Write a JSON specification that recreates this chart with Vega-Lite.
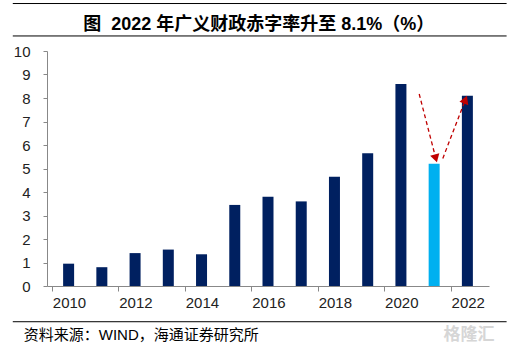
{
  "$schema": "https://vega.github.io/schema/vega-lite/v6.json",
  "width": 442,
  "height": 235,
  "autosize": "none",
  "padding": {"left": 47, "top": 51, "right": 30, "bottom": 67},
  "background": "white",
  "config": {"view": {"stroke": null}, "font": "Liberation Sans, Noto Sans CJK SC"},
  "datasets": {
    "bars": [
      {"year": 2010, "value": 0.95, "kind": "a"},
      {"year": 2011, "value": 0.8, "kind": "a"},
      {"year": 2012, "value": 1.4, "kind": "a"},
      {"year": 2013, "value": 1.55, "kind": "a"},
      {"year": 2014, "value": 1.35, "kind": "a"},
      {"year": 2015, "value": 3.45, "kind": "a"},
      {"year": 2016, "value": 3.8, "kind": "a"},
      {"year": 2017, "value": 3.6, "kind": "a"},
      {"year": 2018, "value": 4.65, "kind": "a"},
      {"year": 2019, "value": 5.65, "kind": "a"},
      {"year": 2020, "value": 8.6, "kind": "a"},
      {"year": 2021, "value": 5.2, "kind": "b"},
      {"year": 2022, "value": 8.1, "kind": "a"}
    ],
    "lines": [
      {"x": 2008.32, "x2": 2023.18, "y": 12.02},
      {"x": 2008.32, "x2": 2023.18, "y": 10.64},
      {"x": 2008.32, "x2": 2023.18, "y": -1.52}
    ],
    "arrows": [
      {"x": 2020.55, "y": 8.17, "x2": 2021.05, "y2": 5.43, "angle": 164.6},
      {"x": 2021.26, "y": 5.43, "x2": 2021.94, "y2": 7.93, "angle": 21.7}
    ],
    "notes": [
      {"x": 2015.72, "y": 11.1, "text": "图\u00a0\u00a02022 年广义财政赤字率升至 8.1%（%）"}
    ],
    "source": [
      {"x": 2008.65, "y": -2.07, "text": "资料来源：WIND，海通证券研究所"}
    ],
    "marks": [
      {"x": 2022.05, "y": -2.1, "text": "格隆汇"}
    ]
  },
  "layer": [
    {
      "data": {"name": "bars"},
      "mark": {"type": "bar", "size": 11},
      "encoding": {
        "x": {"field": "year", "type": "quantitative", "scale": {"domain": [2009.5, 2022.5], "nice": false, "zero": false},
          "axis": {"title": null, "values": [2009.5, 2011.5, 2013.5, 2015.5, 2017.5, 2019.5, 2021.5], "labelExpr": "format(datum.value + 0.5, 'd')", "labelOffset": 17, "grid": false, "domainColor": "#888888", "tickColor": "#888888", "tickSize": 5, "labelPadding": 4, "labelFontSize": 15, "labelColor": "#222222", "labelFont": "Liberation Sans", "labelFlush": false, "labelOverlap": false}},
        "y": {"field": "value", "type": "quantitative", "scale": {"domain": [0, 10], "nice": false},
          "axis": {"title": null, "values": [0, 1, 2, 3, 4, 5, 6, 7, 8, 9, 10], "grid": false, "domainColor": "#888888", "tickColor": "#888888", "tickSize": 4, "labelPadding": 13, "labelFontSize": 15, "labelColor": "#222222", "labelFont": "Liberation Sans", "labelOverlap": false, "labelFlush": false}},
        "color": {"field": "kind", "type": "nominal", "scale": {"domain": ["a", "b"], "range": ["#002060", "#00B0F0"]}, "legend": null}
      }
    },
    {
      "data": {"name": "lines"},
      "mark": {"type": "rule", "color": "#000000", "strokeWidth": 1},
      "encoding": {
        "x": {"field": "x", "type": "quantitative", "title": null},
        "x2": {"field": "x2"},
        "y": {"field": "y", "type": "quantitative", "axis": {"title": null, "values": [0, 1, 2, 3, 4, 5, 6, 7, 8, 9, 10], "labelOverlap": false}}
      }
    },
    {
      "data": {"name": "arrows"},
      "mark": {"type": "rule", "color": "#C00000", "strokeWidth": 1.3, "strokeDash": [4, 3]},
      "encoding": {
        "x": {"field": "x", "type": "quantitative", "title": null},
        "x2": {"field": "x2"},
        "y": {"field": "y", "type": "quantitative", "axis": {"title": null, "values": [0, 1, 2, 3, 4, 5, 6, 7, 8, 9, 10], "labelOverlap": false}},
        "y2": {"field": "y2"}
      }
    },
    {
      "data": {"name": "arrows"},
      "mark": {"type": "point", "shape": "triangle-up", "filled": true, "color": "#C00000", "opacity": 1, "size": 90},
      "encoding": {
        "x": {"field": "x2", "type": "quantitative", "title": null},
        "y": {"field": "y2", "type": "quantitative", "axis": {"title": null, "values": [0, 1, 2, 3, 4, 5, 6, 7, 8, 9, 10], "labelOverlap": false}},
        "angle": {"field": "angle", "type": "quantitative", "scale": null}
      }
    },
    {
      "data": {"name": "notes"},
      "mark": {"type": "text", "align": "center", "baseline": "middle", "fontSize": 18, "fontWeight": "bold", "color": "#000000", "font": "Liberation Sans, Noto Sans CJK SC"},
      "encoding": {
        "x": {"field": "x", "type": "quantitative", "title": null},
        "y": {"field": "y", "type": "quantitative", "axis": {"title": null, "values": [0, 1, 2, 3, 4, 5, 6, 7, 8, 9, 10], "labelOverlap": false}},
        "text": {"field": "text"}
      }
    },
    {
      "data": {"name": "source"},
      "mark": {"type": "text", "align": "left", "baseline": "middle", "fontSize": 15, "color": "#000000", "font": "Liberation Sans, Noto Sans CJK SC"},
      "encoding": {
        "x": {"field": "x", "type": "quantitative", "title": null},
        "y": {"field": "y", "type": "quantitative", "axis": {"title": null, "values": [0, 1, 2, 3, 4, 5, 6, 7, 8, 9, 10], "labelOverlap": false}},
        "text": {"field": "text"}
      }
    },
    {
      "data": {"name": "marks"},
      "mark": {"type": "text", "align": "center", "baseline": "middle", "fontSize": 17, "fontWeight": "bold", "color": "#d6d6d6", "font": "Noto Sans CJK SC"},
      "encoding": {
        "x": {"field": "x", "type": "quantitative", "title": null},
        "y": {"field": "y", "type": "quantitative", "axis": {"title": null, "values": [0, 1, 2, 3, 4, 5, 6, 7, 8, 9, 10], "labelOverlap": false}},
        "text": {"field": "text"}
      }
    }
  ]
}
